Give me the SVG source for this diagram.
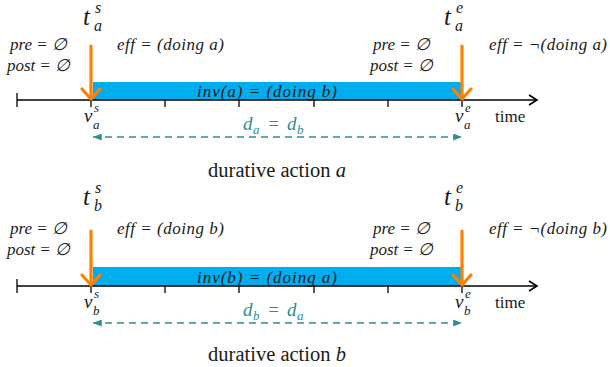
<svg xmlns="http://www.w3.org/2000/svg" width="610" height="367" viewBox="0 0 610 367">
<defs>
<style>
text{font-family:"Liberation Serif","Times New Roman",serif;fill:#1a1a1a}
.m{font-style:italic;font-size:17px}
.t{font-style:italic;font-size:25px}
.ts{font-style:italic;font-size:16px}
.v{font-style:italic;font-size:19px}
.vs{font-style:italic;font-size:13px}
.d{font-style:italic;font-size:19px;fill:#2a9090}
.ds{font-style:italic;font-size:13px;fill:#2a9090}
.cap{font-size:20.5px}
.time{font-size:17px}
.axis{stroke:#000;stroke-width:1.6;fill:none}
.tick{stroke:#000;stroke-width:1.3}
.inv{fill:#00aeef}
.orange{stroke:#ff8000;stroke-width:3.2;fill:none;stroke-linecap:round;stroke-linejoin:round}
.dash{stroke:#2a9090;stroke-width:1.3;stroke-dasharray:7 5;fill:none}
</style>
<marker id="tri" viewBox="0 0 10 8" refX="10" refY="4" markerWidth="9" markerHeight="7" markerUnits="userSpaceOnUse" orient="auto-start-reverse">
<path d="M0,0 L10,4 L0,8 Z" fill="#2a9090"/>
</marker>
</defs>

<g id="panel-a">
<g id="timeline-a">
<rect class="inv" x="93" y="82" width="369" height="18"/>
<line class="axis" x1="17" y1="100" x2="536" y2="100"/>
<path class="axis" d="M529,95 L537,100 L529,105"/>
<line class="tick" x1="17" y1="93" x2="17" y2="107"/>
<line class="tick" x1="91" y1="100" x2="91" y2="107"/>
<line class="tick" x1="165" y1="100" x2="165" y2="107"/>
<line class="tick" x1="239" y1="100" x2="239" y2="107"/>
<line class="tick" x1="314" y1="100" x2="314" y2="107"/>
<line class="tick" x1="388" y1="100" x2="388" y2="107"/>
<line class="tick" x1="462" y1="100" x2="462" y2="107"/>
<text class="m" x="197" y="97" textLength="140" lengthAdjust="spacing">inv(a) = (doing b)</text>
<text class="time" x="495" y="122">time</text>
</g>
<g id="start-a">
<text class="t" x="83" y="25">t</text><text class="ts" x="94" y="31">a</text><text class="ts" x="95" y="13">s</text>
<text class="m" x="10" y="50" textLength="57" lengthAdjust="spacing">pre = ∅</text>
<text class="m" x="7" y="71" textLength="63" lengthAdjust="spacing">post = ∅</text>
<text class="m" x="117" y="50" textLength="107" lengthAdjust="spacing">eff = (doing a)</text>
<text class="v" x="84" y="122">v</text><text class="vs" x="93" y="129">a</text><text class="vs" x="94" y="112">s</text>
</g>
<g id="end-a">
<text class="t" x="444" y="25">t</text><text class="ts" x="455" y="31">a</text><text class="ts" x="456" y="13">e</text>
<text class="m" x="373" y="50" textLength="57" lengthAdjust="spacing">pre = ∅</text>
<text class="m" x="370" y="71" textLength="63" lengthAdjust="spacing">post = ∅</text>
<text class="m" x="489" y="50" textLength="118" lengthAdjust="spacing">eff = ¬(doing a)</text>
<text class="v" x="455" y="122">v</text><text class="vs" x="464" y="129">a</text><text class="vs" x="465" y="112">e</text>
</g>
<g id="duration-a">
<text class="d" x="243" y="130">d</text><text class="ds" x="253" y="134">a</text><text class="d" x="267" y="130">=</text><text class="d" x="287" y="130">d</text><text class="ds" x="297" y="134">b</text>
</g>
<text class="cap" x="277" y="177" text-anchor="middle">durative action <tspan font-style="italic">a</tspan></text>
</g>

<g id="panel-b">
<g id="timeline-b">
<rect class="inv" x="93" y="267" width="369" height="19"/>
<line class="axis" x1="17" y1="286" x2="536" y2="286"/>
<path class="axis" d="M529,281 L537,286 L529,291"/>
<line class="tick" x1="17" y1="279" x2="17" y2="293"/>
<line class="tick" x1="91" y1="286" x2="91" y2="293"/>
<line class="tick" x1="165" y1="286" x2="165" y2="293"/>
<line class="tick" x1="239" y1="286" x2="239" y2="293"/>
<line class="tick" x1="314" y1="286" x2="314" y2="293"/>
<line class="tick" x1="388" y1="286" x2="388" y2="293"/>
<line class="tick" x1="462" y1="286" x2="462" y2="293"/>
<text class="m" x="197" y="283" textLength="140" lengthAdjust="spacing">inv(b) = (doing a)</text>
<text class="time" x="495" y="308">time</text>
</g>
<g id="start-b">
<text class="t" x="83" y="205">t</text><text class="ts" x="94" y="211">b</text><text class="ts" x="95" y="193">s</text>
<text class="m" x="10" y="234" textLength="57" lengthAdjust="spacing">pre = ∅</text>
<text class="m" x="7" y="255" textLength="63" lengthAdjust="spacing">post = ∅</text>
<text class="m" x="117" y="234" textLength="107" lengthAdjust="spacing">eff = (doing b)</text>
<text class="v" x="84" y="308">v</text><text class="vs" x="93" y="315">b</text><text class="vs" x="94" y="298">s</text>
</g>
<g id="end-b">
<text class="t" x="444" y="205">t</text><text class="ts" x="455" y="211">b</text><text class="ts" x="456" y="193">e</text>
<text class="m" x="373" y="234" textLength="57" lengthAdjust="spacing">pre = ∅</text>
<text class="m" x="370" y="255" textLength="63" lengthAdjust="spacing">post = ∅</text>
<text class="m" x="489" y="234" textLength="118" lengthAdjust="spacing">eff = ¬(doing b)</text>
<text class="v" x="455" y="308">v</text><text class="vs" x="464" y="315">b</text><text class="vs" x="465" y="298">e</text>
</g>
<g id="duration-b">
<text class="d" x="243" y="316">d</text><text class="ds" x="253" y="320">b</text><text class="d" x="267" y="316">=</text><text class="d" x="287" y="316">d</text><text class="ds" x="297" y="320">a</text>
</g>
<text class="cap" x="277" y="361" text-anchor="middle">durative action <tspan font-style="italic">b</tspan></text>
</g>

<g id="connectors">
<line class="orange" x1="91" y1="46" x2="91" y2="98"/>
<path class="orange" d="M82,89 L91,99 L100,89"/>
<line class="orange" x1="462" y1="46" x2="462" y2="98"/>
<path class="orange" d="M453,89 L462,99 L471,89"/>
<line class="dash" x1="93" y1="137" x2="462" y2="137" marker-start="url(#tri)" marker-end="url(#tri)"/>
<line class="orange" x1="91" y1="231" x2="91" y2="284"/>
<path class="orange" d="M82,275 L91,285 L100,275"/>
<line class="orange" x1="462" y1="231" x2="462" y2="284"/>
<path class="orange" d="M453,275 L462,285 L471,275"/>
<line class="dash" x1="93" y1="323" x2="462" y2="323" marker-start="url(#tri)" marker-end="url(#tri)"/>
</g>
</svg>
